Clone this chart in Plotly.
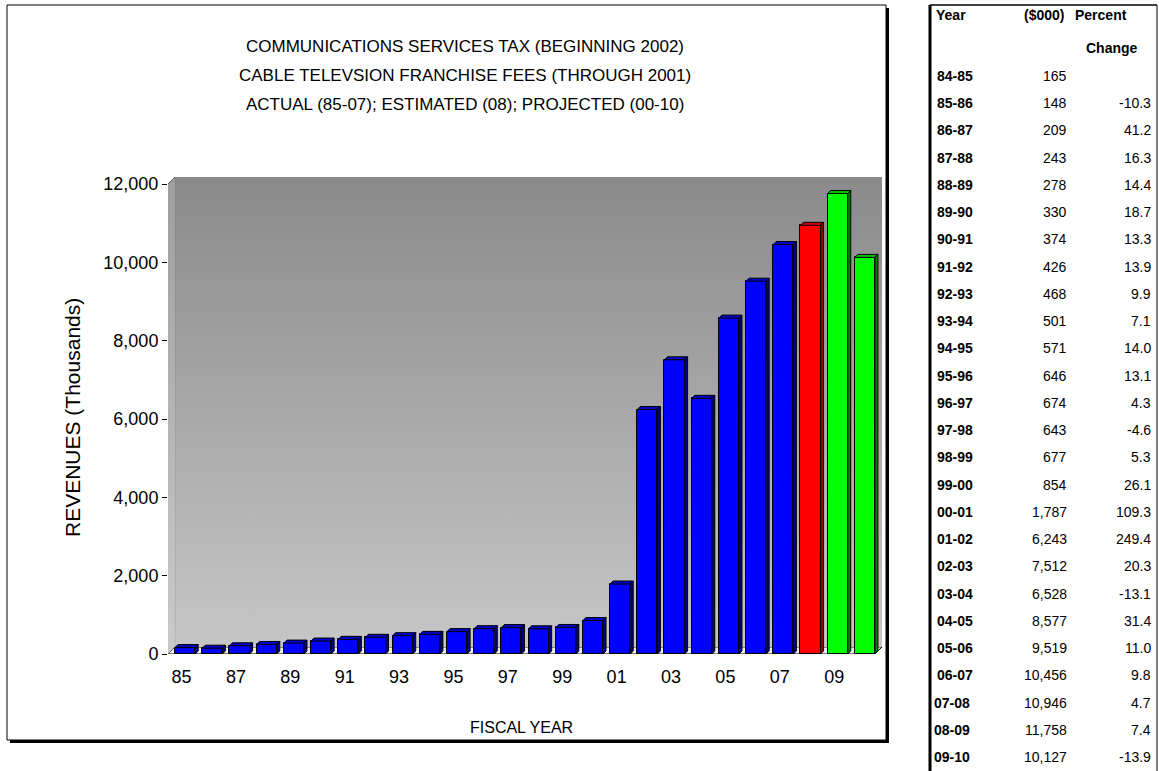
import base64
import plotly.graph_objects as go

# ---- data -------------------------------------------------------------
years = ["84-85", "85-86", "86-87", "87-88", "88-89", "89-90", "90-91",
         "91-92", "92-93", "93-94", "94-95", "95-96", "96-97", "97-98",
         "98-99", "99-00", "00-01", "01-02", "02-03", "03-04", "04-05",
         "05-06", "06-07", "07-08", "08-09", "09-10"]
revenues = [165, 148, 209, 243, 278, 330, 374, 426, 468, 501, 571, 646, 674,
            643, 677, 854, 1787, 6243, 7512, 6528, 8577, 9519, 10456, 10946,
            11758, 10127]
pct_change = [None, -10.3, 41.2, 16.3, 14.4, 18.7, 13.3, 13.9, 9.9, 7.1,
              14.0, 13.1, 4.3, -4.6, 5.3, 26.1, 109.3, 249.4, 20.3, -13.1,
              31.4, 11.0, 9.8, 4.7, 7.4, -13.9]
fiscal_year = ["85", "86", "87", "88", "89", "90", "91", "92", "93", "94",
               "95", "96", "97", "98", "99", "00", "01", "02", "03", "04",
               "05", "06", "07", "08", "09", "10"]
status = ["Actual"] * 23 + ["Estimated"] + ["Projected"] * 2
y_ticks = [0, 2000, 4000, 6000, 8000, 10000, 12000]

title_lines = ["COMMUNICATIONS SERVICES TAX (BEGINNING 2002)",
               "CABLE TELEVSION FRANCHISE FEES (THROUGH 2001)",
               "ACTUAL (85-07); ESTIMATED (08); PROJECTED (00-10)"]
table_header = ["Year", "($000)", "Percent", "Change"]

# ---- geometry / styles ------------------------------------------------
W, H = 1159, 771
PL, PR, PT, PB = 168, 882, 177, 654          # plot area (pixels)
Y_MAX = 12000
DX, DY = 0.26, 180                           # wall depth in axis units
BDX, BDY = 0.11, 77                          # bar depth in axis units
BAR_W, BAR_SHIFT = 0.74, 0.13
X_LO, X_HI = -0.5, len(years) - 0.5

FACE = {  # front, top, side
    "Actual": ("#0000ff", "#0000c8", "#00008c"),
    "Estimated": ("#ff0000", "#c80000", "#8c0000"),
    "Projected": ("#00ff00", "#00c000", "#008000"),
}
SANS = "Liberation Sans, Arial, sans-serif"


def px_x(p):
    return (p - PL) / (PR - PL)


def px_y(p):
    return (PB - p) / (PB - PT)


def svg_uri(svg):
    return "data:image/svg+xml;base64," + base64.b64encode(svg.encode()).decode()


def gradient_svg(shape, top, bottom):
    return svg_uri(
        "<svg xmlns='http://www.w3.org/2000/svg' width='200' height='200' "
        "viewBox='0 0 1 1' preserveAspectRatio='none'><defs>"
        "<linearGradient id='g' x1='0' y1='0' x2='0' y2='1'>"
        f"<stop offset='0' stop-color='{top}'/>"
        f"<stop offset='1' stop-color='{bottom}'/></linearGradient></defs>"
        f"{shape}</svg>")


fig = go.Figure()

# ---- bars: front faces ------------------------------------------------
xc = [i + BAR_SHIFT for i in range(len(years))]
fig.add_trace(go.Bar(
    x=xc, y=revenues, width=BAR_W,
    marker=dict(color=[FACE[s][0] for s in status],
                line=dict(color="black", width=1)),
    hoverinfo="skip", showlegend=False))

# ---- bars: top and side faces -----------------------------------------
for grp in FACE:
    tops_x, tops_y, sides_x, sides_y = [], [], [], []
    for c, v, s in zip(xc, revenues, status):
        if s != grp:
            continue
        x0, x1 = c - BAR_W / 2, c + BAR_W / 2
        tops_x += [x0, x0 + BDX, x1 + BDX, x1, x0, None]
        tops_y += [v, v + BDY, v + BDY, v, v, None]
        sides_x += [x1, x1 + BDX, x1 + BDX, x1, x1, None]
        sides_y += [0, BDY, v + BDY, v, 0, None]
    for px_, py_, col in ((sides_x, sides_y, FACE[grp][2]),
                          (tops_x, tops_y, FACE[grp][1])):
        fig.add_trace(go.Scatter(
            x=px_, y=py_, mode="lines", fill="toself", fillcolor=col,
            line=dict(color="black", width=1), hoverinfo="skip",
            showlegend=False))

# ---- walls and floor --------------------------------------------------
d = DY / (Y_MAX + DY)
images = [
    dict(source=gradient_svg("<rect x='0' y='0' width='1' height='1' fill='url(#g)'/>",
                             "#8a8a8a", "#c6c6c6"),
         xref="x", yref="y", x=X_LO + DX, y=Y_MAX + DY,
         sizex=X_HI - X_LO, sizey=Y_MAX, xanchor="left", yanchor="top",
         sizing="stretch", layer="below"),
    dict(source=gradient_svg(f"<polygon points='0,1 1,{1 - d} 1,0 0,{d}' fill='url(#g)'/>",
                             "#9e9e9e", "#cacaca"),
         xref="x", yref="y", x=X_LO, y=Y_MAX + DY,
         sizex=DX, sizey=Y_MAX + DY, xanchor="left", yanchor="top",
         sizing="stretch", layer="below"),
]

shapes = [
    # floor
    dict(type="path", xref="x", yref="y", layer="below",
         path=f"M {X_LO},0 L {X_HI},0 L {X_HI + DX},{DY} L {X_LO + DX},{DY} Z",
         fillcolor="#eeeeee", line=dict(color="black", width=1)),
    # back wall outline
    dict(type="path", xref="x", yref="y", layer="below",
         path=f"M {X_LO + DX},{Y_MAX + DY} L {X_HI + DX},{Y_MAX + DY} L {X_HI + DX},{DY}",
         line=dict(color="#3a3a3a", width=1.5)),
    # left wall outline
    dict(type="path", xref="x", yref="y", layer="below",
         path=f"M {X_LO},0 L {X_LO},{Y_MAX} L {X_LO + DX},{Y_MAX + DY} L {X_LO + DX},{DY} Z",
         line=dict(color="black", width=1)),
    dict(type="line", xref="x", yref="y", layer="below",
         x0=X_LO + DX, x1=X_LO + DX, y0=DY, y1=Y_MAX + DY,
         line=dict(color="black", width=2)),
]

# chart frame with drop shadow
FL, FT, FR, FB = 7, 5, 886, 740
shapes += [
    dict(type="rect", xref="paper", yref="paper", layer="below",
         x0=px_x(FL + 3), x1=px_x(FR + 3), y0=px_y(FT + 3), y1=px_y(FB + 3),
         fillcolor="black", line=dict(width=0)),
    dict(type="rect", xref="paper", yref="paper", layer="below",
         x0=px_x(FL), x1=px_x(FR), y0=px_y(FT), y1=px_y(FB),
         fillcolor="white", line=dict(color="black", width=1)),
]

# table frame
TL, TT, TR = 930, 5, 1157
shapes += [
    dict(type="line", xref="paper", yref="paper",
         x0=px_x(TL), x1=px_x(TL), y0=px_y(TT), y1=px_y(H),
         line=dict(color="black", width=3)),
    dict(type="line", xref="paper", yref="paper",
         x0=px_x(TL), x1=px_x(TR), y0=px_y(TT), y1=px_y(TT),
         line=dict(color="black", width=1.5)),
    dict(type="line", xref="paper", yref="paper",
         x0=px_x(TR), x1=px_x(TR), y0=px_y(TT), y1=px_y(H),
         line=dict(color="black", width=1)),
]

# ---- text -------------------------------------------------------------
ann = []
for k, line in enumerate(title_lines):
    ann.append(dict(text=line, xref="paper", yref="paper",
                    x=px_x(465), y=px_y(47 + 28.5 * k), xanchor="center",
                    yanchor="middle", showarrow=False,
                    font=dict(family=SANS, size=17, color="black")))
ann.append(dict(text="REVENUES (Thousands)", xref="paper", yref="paper",
                x=px_x(72), y=px_y(418), textangle=-90, showarrow=False,
                xanchor="center", yanchor="middle",
                font=dict(family=SANS, size=21, color="black")))
ann.append(dict(text="FISCAL YEAR", xref="paper", yref="paper",
                x=px_x(521), y=px_y(727), showarrow=False,
                xanchor="center", yanchor="middle",
                font=dict(family=SANS, size=16, color="black")))

# table
HEAD = dict(family=SANS, size=14, color="black")
BODY = dict(family=SANS, size=14, color="black")
for text, cx, cy in zip(table_header, (951, 1044, 1101, 1112), (15, 15, 15, 48)):
    ann.append(dict(text=f"<b>{text}</b>", xref="paper", yref="paper",
                    x=px_x(cx), y=px_y(cy), xanchor="center", yanchor="middle",
                    showarrow=False, font=HEAD))
ROW0, ROW_H = 76, 27.24
for i, (yr, rev, pc, s) in enumerate(zip(years, revenues, pct_change, status)):
    ry = px_y(ROW0 + ROW_H * i)
    ann.append(dict(text=f"<b>{yr}</b>", xref="paper", yref="paper",
                    x=px_x(935 if s == "Actual" else 932), y=ry,
                    xanchor="left", yanchor="middle", showarrow=False, font=HEAD))
    ann.append(dict(text=f"{rev:,}", xref="paper", yref="paper",
                    x=px_x(1069), y=ry, xanchor="right", yanchor="middle",
                    showarrow=False, font=BODY))
    if pc is not None:
        ann.append(dict(text=f"{pc:.1f}", xref="paper", yref="paper",
                        x=px_x(1153), y=ry, xanchor="right", yanchor="middle",
                        showarrow=False, font=BODY))

fig.update_layout(
    width=W, height=H,
    margin=dict(l=PL, r=W - PR, t=PT, b=H - PB, autoexpand=False),
    paper_bgcolor="white", plot_bgcolor="rgba(0,0,0,0)",
    showlegend=False, bargap=0,
    xaxis=dict(range=[X_LO, X_HI + DX], showgrid=False, zeroline=False,
               showline=False, ticks="", tickvals=list(range(0, len(years), 2)),
               ticktext=fiscal_year[::2], ticklabelstandoff=10,
               tickfont=dict(family=SANS, size=18, color="black"),
               fixedrange=True),
    yaxis=dict(range=[0, Y_MAX + DY], showgrid=False, zeroline=False,
               showline=False, ticks="outside", ticklen=5, tickcolor="black",
               tickwidth=1, tickvals=y_ticks, tickformat=",",
               tickfont=dict(family=SANS, size=18, color="black"),
               fixedrange=True),
    images=images, shapes=shapes, annotations=ann,
)

fig.write_html("out.html")
